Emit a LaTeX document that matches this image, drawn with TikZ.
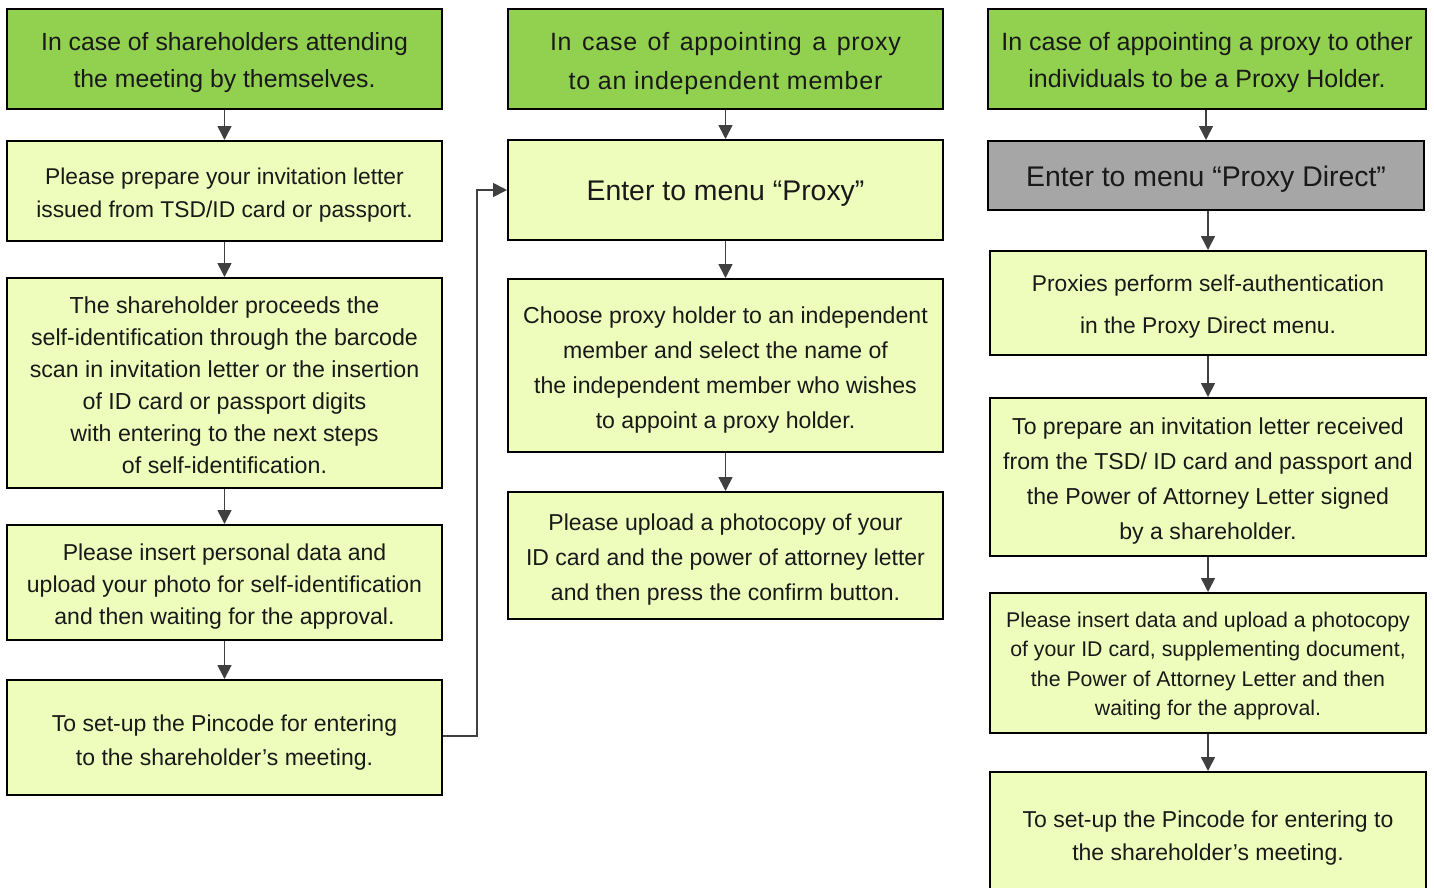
\documentclass[tikz,border=0pt]{standalone}
\usepackage{fontspec}
\setmainfont{Liberation Sans}
\usetikzlibrary{arrows.meta}
\definecolor{hdgreen}{HTML}{92D050}
\definecolor{lightbox}{HTML}{EFFDBC}
\definecolor{graybox}{HTML}{A6A6A6}
\definecolor{arrowgray}{HTML}{404040}
\tikzset{
  box/.style={draw=black, line width=2pt, fill=lightbox, inner sep=0pt},
  hdbox/.style={box, fill=hdgreen},
  gbox/.style={box, fill=graybox},
  lbl/.style={align=center, inner sep=0pt, text=black!90},
  flow/.style={draw=arrowgray, line width=1.6pt, -{Triangle[length=14pt,width=14pt]}},
}
\newcommand{\fz}[2]{\fontsize{#1}{#2}\selectfont}
\begin{document}
\begin{tikzpicture}[x=1pt,y=-1pt]
\useasboundingbox (0,0) rectangle (1434,887);
\clip (0,0) rectangle (1434,887);
% left column
\node[hdbox, minimum width=435, minimum height=100] (L0) at (224.5,59) {};
\node[lbl, font=\fz{24.8}{37}] (L0t) at ([yshift=-4pt]L0.center) {In case of shareholders attending\\the meeting by themselves.};
\node[box, minimum width=435, minimum height=100] (L1) at (224.5,191) {};
\node[lbl, font=\fz{22.8}{33}] (L1t) at ([yshift=-4pt]L1.center) {Please prepare your invitation letter\\issued from TSD/ID card or passport.};
\node[box, minimum width=435, minimum height=210] (L2) at (224.5,383) {};
\node[lbl, font=\fz{23.2}{32}] (L2t) at ([yshift=-2pt]L2.center) {The shareholder proceeds the\\self-identification through the barcode\\scan in invitation letter or the insertion\\of ID card or passport digits\\with entering to the next steps\\of self-identification.};
\node[box, minimum width=435, minimum height=115] (L3) at (224.5,582.5) {};
\node[lbl, font=\fz{23}{32}] (L3t) at ([yshift=-4pt]L3.center) {Please insert personal data and\\upload your photo for self-identification\\and then waiting for the approval.};
\node[box, minimum width=435, minimum height=115] (L4) at (224.5,737.5) {};
\node[lbl, font=\fz{23}{34}] (L4t) at ([yshift=-5pt]L4.center) {To set-up the Pincode for entering\\to the shareholder’s meeting.};
% middle column
\node[hdbox, minimum width=435, minimum height=100] (M0) at (725.5,59) {};
\node[lbl, font=\fz{25}{39}\addfontfeatures{LetterSpace=3}] (M0t) at ([yshift=-5pt]M0.center) {{\spaceskip=0.42em In case of appointing a proxy}\\to an independent member};
\node[box, minimum width=435, minimum height=100] (M1) at (725.5,190) {};
\node[lbl, font=\fz{28.4}{32}] (M1t) at ([yshift=-4pt]M1.center) {Enter to menu “Proxy”};
\node[box, minimum width=435, minimum height=173] (M2) at (725.5,365.5) {};
\node[lbl, font=\fz{23.1}{35}] (M2t) at ([yshift=-5pt]M2.center) {Choose proxy holder to an independent\\member and select the name of\\the independent member who wishes\\to appoint a proxy holder.};
\node[box, minimum width=435, minimum height=127] (M3) at (725.5,555.5) {};
\node[lbl, font=\fz{23}{35}] (M3t) at ([yshift=-4pt]M3.center) {Please upload a photocopy of your\\ID card and the power of attorney letter\\and then press the confirm button.};
% right column
\node[hdbox, minimum width=438, minimum height=100] (R0) at (1207,59) {};
\node[lbl, font=\fz{25}{37}] (R0t) at ([yshift=-4pt]R0.center) {In case of appointing a proxy to other\\individuals to be a Proxy Holder.};
\node[gbox, minimum width=436, minimum height=69] (R1) at (1206,175.5) {};
\node[lbl, font=\fz{28.4}{32}] (R1t) at ([yshift=-4pt]R1.center) {Enter to menu “Proxy Direct”};
\node[box, minimum width=436, minimum height=104] (R2) at (1208,303) {};
\node[lbl, font=\fz{22.8}{42}] (R2t) at ([yshift=-4pt]R2.center) {Proxies perform self-authentication\\in the Proxy Direct menu.};
\node[box, minimum width=436, minimum height=158] (R3) at (1208,477) {};
\node[lbl, font=\fz{23.1}{35}] (R3t) at ([yshift=-4pt]R3.center) {To prepare an invitation letter received\\from the TSD/ ID card and passport and\\the Power of Attorney Letter signed\\by a shareholder.};
\node[box, minimum width=436, minimum height=140] (R4) at (1208,663) {};
\node[lbl, font=\fz{21.3}{29.5}] (R4t) at ([yshift=-3pt]R4.center) {Please insert data and upload a photocopy\\of your ID card, supplementing document,\\the Power of Attorney Letter and then\\waiting for the approval.};
\node[box, minimum width=436, minimum height=170] (R5) at (1208,857) {};
\node[lbl, font=\fz{23}{33}] (R5t) at (1208,838) {To set-up the Pincode for entering to\\the shareholder’s meeting.};
% arrows
\draw[flow] (L0) -- (L1);
\draw[flow] (L1) -- (L2);
\draw[flow] (L2) -- (L3);
\draw[flow] (L3) -- (L4);
\draw[flow] (M0) -- (M1);
\draw[flow] (M1) -- (M2);
\draw[flow] (M2) -- (M3);
\draw[flow] (R0.south -| R1.north) -- (R1);
\draw[flow] (R1.south -| R2.north) -- (R2);
\draw[flow] (R2) -- (R3);
\draw[flow] (R3) -- (R4);
\draw[flow] (R4.south) -- (R4.south |- R5.north);
\coordinate (bendA) at (477,736);
\draw[flow] (L4.east |- bendA) -- (bendA) |- (M1.west);
\end{tikzpicture}
\end{document}
